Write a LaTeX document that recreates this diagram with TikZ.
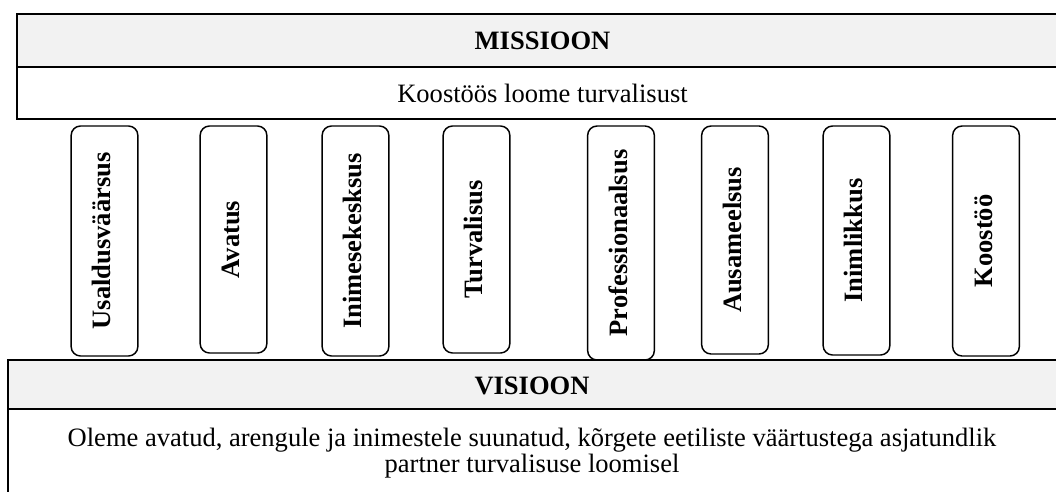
\documentclass[tikz,border=0pt]{standalone}
\usepackage{fontspec}
\setmainfont{Liberation Serif}
\definecolor{bandgray}{HTML}{F2F2F2}
\begin{document}
\fontsize{19.9pt}{19.5pt}\selectfont
\begin{tikzpicture}[x=0.75pt,y=-0.75pt,
  band/.style={draw=black, line width=1.4pt, fill=bandgray, rectangle, inner sep=0pt},
  sheet/.style={draw=black, line width=1.4pt, fill=white, rectangle, inner sep=0pt},
  pillar/.style={draw=black, line width=1.1pt, fill=white, rounded corners=7pt,
    rotate=90, minimum height=50pt, inner sep=0pt, font=\bfseries,
    text height=0.66em, text depth=0.2em},
  caption/.style={anchor=base, inner sep=0pt},
]
\useasboundingbox (0,0) rectangle (1056,492);
\clip (0,0) rectangle (1056,492);

% mission: title band and statement
\node[band,  minimum width=788.25pt, minimum height=39.75pt] (mhead) at (542.5,40.5) {};
\node[sheet, minimum width=788.25pt, minimum height=39pt]    (mbody) at (542.5,93) {};
\node[caption, font=\bfseries] (mtitle) at (542.5,50)  {MISSIOON};
\node[caption]                 (mtext)  at (542.5,103) {Koostöös loome turvalisust};

% value pillars
\node[pillar, minimum width=172.5pt]  (p1) at (104.5,241)   {Usaldusväärsus};
\node[pillar, minimum width=170.25pt] (p2) at (233.5,239.5) {Avatus};
\node[pillar, minimum width=172.5pt]  (p3) at (355.5,241)   {Inimesekesksus};
\node[pillar, minimum width=170.25pt] (p4) at (476.5,239.5) {Turvalisus};
\node[pillar, minimum width=175.5pt]  (p5) at (621,243)     {Professionaalsus};
\node[pillar, minimum width=171pt]    (p6) at (735,240)     {Ausameelsus};
\node[pillar, minimum width=171.75pt] (p7) at (856.5,240.5) {Inimlikkus};
\node[pillar, minimum width=172.5pt]  (p8) at (986,241)     {Koostöö};

% vision: title band and statement
\node[band,  minimum width=790.5pt, minimum height=36.75pt] (vhead) at (535,384.5) {};
\node[sheet, minimum width=790.5pt, minimum height=68.25pt] (vbody) at (535,454.5) {};
\node[caption, font=\bfseries] (vtitle) at (532,394) {VISIOON};
\node[caption] (vtext1) at (532,446) {Oleme avatud, arengule ja inimestele suunatud, kõrgete eetiliste väärtustega asjatundlik};
\node[caption] (vtext2) at (532,472) {partner turvalisuse loomisel};
\end{tikzpicture}
\end{document}
